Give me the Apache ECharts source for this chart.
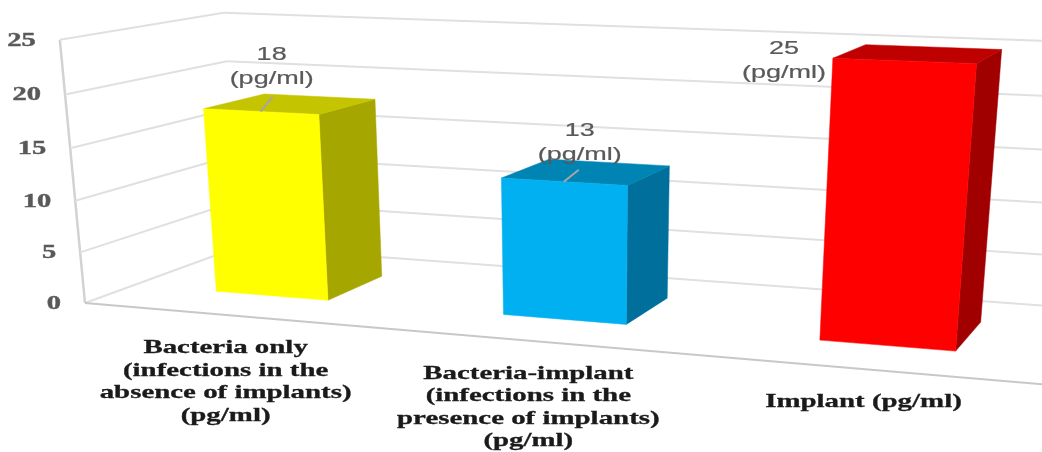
<!DOCTYPE html>
<html>
<head>
<meta charset="utf-8">
<style>html,body{margin:0;padding:0;background:#fff}#chart{width:1042px;height:452px}</style>
<script src="https://cdn.jsdelivr.net/npm/echarts@6/dist/echarts.min.js"></script>
</head>
<body>
<div id="chart"></div>
<script>
// Chart content
const categories = [
  'Bacteria only\n(infections in the\nabsence of implants)\n(pg/ml)',
  'Bacteria-implant\n(infections in the\npresence of implants)\n(pg/ml)',
  'Implant (pg/ml)'
];
const values = [18, 13, 25];
const valueUnit = '(pg/ml)';
const tickValues = [0, 5, 10, 15, 20, 25];
const faceColors = ['#ffff00', '#00b0f0', '#ff0000'];
const topColors = ['#c4c400', '#0084b4', '#bf0000'];
const sideColors = ['#a6a600', '#006f9c', '#a00000'];

// Value labels were moved by hand: offsets from the middle of each bar's front top edge
const labelOffsets = [[11, -45], [16, -39], [-120, 0]];
const leaderOffsets = [[12, -15], [15, -12], null];

// Perspective camera: origin and three vanishing points, in homogeneous form
const ORIGIN = [85, 303];
const VP_X = [-5720, -190], VP_DEPTH = [1417, -184], VP_UP = [582, 5500];
const SPAN_X = -0.1419, SPAN_DEPTH = 0.1307, SPAN_UP = -0.0482;
const BAR_WIDTH = 0.4, BAR_DEPTH = 0.4;

// fx: 0..1 along the categories, fd: 0 front..1 back, fv: 0..1 up the value axis
function project(fx, fd, fv) {
  const s = SPAN_X * fx, t = SPAN_DEPTH * fd, u = SPAN_UP * fv;
  const w = 1 + s + t + u;
  return [
    (ORIGIN[0] + s * VP_X[0] + t * VP_DEPTH[0] + u * VP_UP[0]) / w,
    (ORIGIN[1] + s * VP_X[1] + t * VP_DEPTH[1] + u * VP_UP[1]) / w
  ];
}

// Fractions along the hidden cartesian axes
function fractions(params, api, cat, val) {
  const r = params.coordSys, p = api.coord([cat, val]);
  return [(p[0] - r.x) / r.width, (r.y + r.height - p[1]) / r.height];
}

const WALL = '#e0e0e0', EDGE = '#d2d2d2', FLOOR = '#c8c8c8';
const serifBold = 'bold 19px "Liberation Serif", serif';
const sansLabel = '18px "Liberation Sans", sans-serif';

function seg(a, b, color, width) {
  return {type: 'line', silent: true,
    shape: {x1: a[0], y1: a[1], x2: b[0], y2: b[1]},
    style: {stroke: color, lineWidth: width}};
}
function poly(points, color) {
  return {type: 'polygon', silent: true, shape: {points}, style: {fill: color, stroke: color, lineWidth: 0.5}};
}
function label(text, x, y, font, color, align, vAlign, scaleX, lineHeight, weight) {
  return {type: 'text', silent: true, x, y, scaleX, z2: 50,
    style: {text, font, fill: color, align, verticalAlign: vAlign, lineHeight,
      stroke: color, lineWidth: weight}};
}

function renderWalls(params, api) {
  const v = api.value(0);
  const fv = fractions(params, api, 0, v)[1];
  const front = project(0, 0, fv), back = project(0, 1, fv), right = project(1, 1, fv);
  const children = [seg(front, back, WALL, 2), seg(back, right, WALL, 2)];
  children.push(label(String(v), front[0] - 24, front[1] + 1, serifBold, '#595959', 'right', 'middle', 1.5, 19, 0.4));
  if (v === tickValues[0]) {
    children.push(seg(front, project(0, 0, 1), EDGE, 2.5));
    children.push(seg(front, project(1, 0, 0), FLOOR, 2));
  }
  return {type: 'group', children};
}

function renderBars(params, api) {
  const i = api.value(0), v = api.value(1);
  const [cx, fv] = fractions(params, api, i, v);
  const half = api.size([1, 0])[0] * BAR_WIDTH / 2 / params.coordSys.width;
  const l = cx - half, r = cx + half;
  const d0 = (1 - BAR_DEPTH) / 2, d1 = d0 + BAR_DEPTH;
  const children = [
    poly([project(r, d0, 0), project(r, d1, 0), project(r, d1, fv), project(r, d0, fv)], sideColors[i]),
    poly([project(l, d0, fv), project(r, d0, fv), project(r, d1, fv), project(l, d1, fv)], topColors[i]),
    poly([project(l, d0, 0), project(r, d0, 0), project(r, d0, fv), project(l, d0, fv)], faceColors[i])
  ];
  const mid = project(cx, d0, fv);
  const off = labelOffsets[i], lead = leaderOffsets[i];
  if (lead) {
    children.push(seg(mid, [mid[0] + lead[0], mid[1] + lead[1]], '#a6a6a6', 2));
  }
  children.push(label(v + '\n' + valueUnit, mid[0] + off[0], mid[1] + off[1], sansLabel, '#595959', 'center', 'middle', 1.5, 24, 0.2));
  const edge = project(cx, 0, 0);
  children.push(label(categories[i], edge[0], edge[1] + 22, serifBold, '#1a1a1a', 'center', 'top', 1.52, 22.5, 0.3));
  return {type: 'group', children};
}

const chart = echarts.init(document.getElementById('chart'), null, {renderer: 'canvas'});
chart.setOption({
  animation: false,
  backgroundColor: '#ffffff',
  grid: {left: 0, top: 0, width: 300, height: 250},
  xAxis: {type: 'category', data: categories, show: false},
  yAxis: {type: 'value', min: 0, max: 25, interval: 5, show: false},
  series: [
    {type: 'custom', renderItem: renderWalls, data: tickValues.map(t => [t]),
     encode: {x: -1, y: 0}, z: 1, silent: true, clip: false},
    {type: 'custom', renderItem: renderBars, data: values.map((v, i) => [i, v]),
     encode: {x: 0, y: 1}, z: 2, silent: true, clip: false}
  ]
});
</script>
</body>
</html>
